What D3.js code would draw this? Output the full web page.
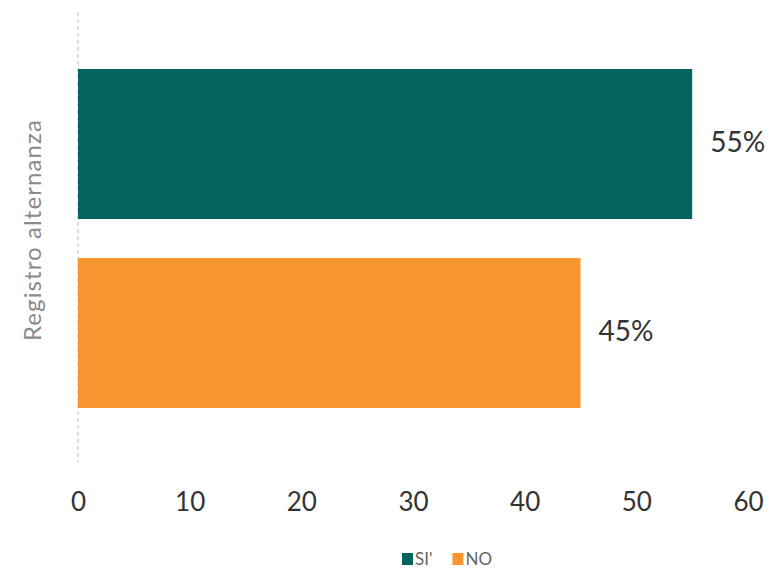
<!DOCTYPE html>
<html>
<head>
<meta charset="utf-8">
<script src="https://cdn.jsdelivr.net/npm/d3@7"></script>
<style>
  body { margin: 0; background: #fff; }
  svg { display: block; font-family: Lato, "Open Sans", sans-serif; }
</style>
</head>
<body>
<svg id="chart" width="769" height="571"></svg>
<script>
// Response categories and their shares (%)
const categories = ["SI'", "NO"];
const values = [55, 45];
const colors = ["#03635F", "#F7962F"];
const axisTitle = "Registro alternanza";
const xTicks = [0, 10, 20, 30, 40, 50, 60];

const svg = d3.select("#chart");
const width = 769;

const x = d3.scaleLinear().domain([0, 60]).range([78, 748]);
const y = d3.scaleBand().domain(categories).range([69, 408]).paddingInner(0.206).paddingOuter(0);

// Dashed baseline at zero
svg.append("line")
  .attr("x1", x(0)).attr("x2", x(0))
  .attr("y1", 12).attr("y2", 463)
  .attr("stroke", "#bdbdbd").attr("stroke-width", 1)
  .attr("stroke-dasharray", "4,3");

// Bars
svg.selectAll("rect.bar").data(categories).enter().append("rect")
  .attr("class", "bar")
  .attr("x", x(0))
  .attr("y", d => y(d))
  .attr("width", (d, i) => x(values[i]) - x(0))
  .attr("height", y.bandwidth())
  .attr("fill", (d, i) => colors[i]);

// Value labels
svg.selectAll("text.val").data(categories).enter().append("text")
  .attr("class", "val")
  .attr("x", (d, i) => x(values[i]) + 18)
  .attr("y", d => y(d) + y.bandwidth() / 2 - 2)
  .attr("dy", "0.35em")
  .attr("font-size", 28)
  .attr("fill", "#333")
  .text((d, i) => values[i] + "%");

// X axis (labels only)
const xAxis = d3.axisBottom(x).tickValues(xTicks).tickSize(0).tickPadding(0);
const gx = svg.append("g").attr("transform", "translate(0, 493)").call(xAxis);
gx.select(".domain").remove();
gx.selectAll("text").attr("font-size", 26).attr("fill", "#333")
  .attr("font-family", "Lato, 'Open Sans', sans-serif");

// Y axis title
svg.append("text")
  .attr("transform", "translate(41, 230) rotate(-90)")
  .attr("text-anchor", "middle")
  .attr("font-size", 24)
  .attr("letter-spacing", 1.1)
  .attr("fill", "#8a8a8a")
  .text(axisTitle);

// Legend
const legend = svg.append("g").attr("transform", "translate(402, 559)");
let lx = 0;
categories.forEach((c, i) => {
  legend.append("rect").attr("x", lx).attr("y", -6).attr("width", 11).attr("height", 12).attr("fill", colors[i]);
  const t = legend.append("text").attr("x", lx + 13).attr("y", 0).attr("dy", "0.36em")
    .attr("font-size", 17).attr("fill", "#666").text(c);
  lx += 13 + t.node().getComputedTextLength() + 20;
});
</script>
</body>
</html>
